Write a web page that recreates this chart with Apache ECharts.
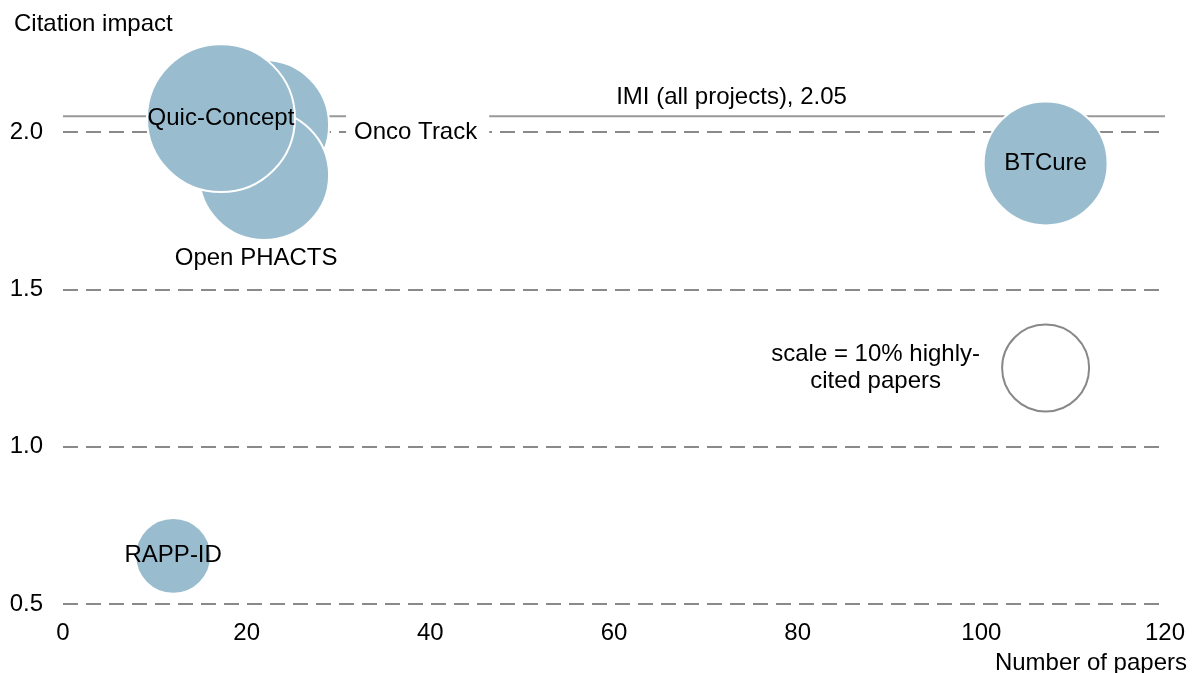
<!DOCTYPE html>
<html><head><meta charset="utf-8">
<script src="https://cdn.jsdelivr.net/npm/echarts@6/dist/echarts.min.js"></script>
<style>html,body{margin:0;padding:0;background:#fff}#c{width:1195px;height:673px}</style>
</head><body><div id="c"></div>
<script>
// ---- data ----
const projects = ['Onco Track', 'Open PHACTS', 'Quic-Concept', 'BTCure', 'RAPP-ID'];
const papers = [21.9, 21.9, 17.2, 107.0, 12.0];
const impact = [2.022, 1.863, 2.044, 1.90, 0.653];
const highlyCited = [22.3, 22.3, 28.9, 20.3, 7.6]; // % highly-cited papers (bubble area)
const scaleRef = { x: 107.0, y: 1.25, share: 10, text: 'scale = 10% highly-\ncited papers' };
const imiValue = 2.05;
const imiLabel = 'IMI (all projects), 2.05';
const imiLabelX = 72.8;
const xRange = [0, 120];
const yRange = [0.5, 2.0];
const yTickInterval = 0.5;
const xTickInterval = 20;

const FONT = '"Liberation Sans", Arial, sans-serif';
const FS = 24;
const bubbleColor = '#99BDCF';
const sizeFn = share => 87 * Math.sqrt(share / 10);
const txt = { color: '#000', fontSize: FS, fontFamily: FONT, textBorderWidth: 0 };

const labelCfg = {
  'Onco Track': { position: 'right', distance: 16, offset: [0, 7], backgroundColor: '#fff', padding: [8, 12, 8, 8] },
  'Open PHACTS': { position: 'bottom', distance: 5, offset: [-8, 0] },
  'Quic-Concept': { position: 'inside' },
  'BTCure': { position: 'inside' },
  'RAPP-ID': { position: 'inside' }
};

const bubbleData = projects.map((p, i) => ({
  name: p,
  value: [papers[i], impact[i], highlyCited[i]],
  label: Object.assign({ show: true, formatter: '{b}' }, txt, labelCfg[p])
}));

const chart = echarts.init(document.getElementById('c'), null, { renderer: 'canvas' });
chart.setOption({
  animation: false,
  backgroundColor: '#fff',
  title: [
    { text: 'Citation impact', left: 14, top: 12, padding: 0, textStyle: Object.assign({ fontWeight: 'normal' }, txt) },
    { text: 'Number of papers', right: 8, bottom: -2, padding: 0, textStyle: Object.assign({ fontWeight: 'normal' }, txt) }
  ],
  grid: { left: 63, right: 30, top: 132, bottom: 69 },
  xAxis: {
    type: 'value', min: xRange[0], max: xRange[1], interval: xTickInterval,
    axisLine: { show: false }, axisTick: { show: false }, splitLine: { show: false },
    axisLabel: Object.assign({ margin: 17 }, txt)
  },
  yAxis: {
    type: 'value', min: yRange[0], max: yRange[1], interval: yTickInterval,
    axisLine: { show: false }, axisTick: { show: false },
    splitLine: { show: true, lineStyle: { color: '#8a8a8a', width: 2, type: [15, 8] } },
    axisLabel: Object.assign({ margin: 20, formatter: v => v.toFixed(1) }, txt)
  },
  series: [
    {
      name: 'IMI', type: 'line', z: 1, silent: true, symbol: 'none', clip: false,
      lineStyle: { color: '#999', width: 2 },
      data: [[xRange[0], imiValue], [xRange[1], imiValue]]
    },
    {
      type: 'scatter', z: 1, clip: false, silent: true,
      data: [{ name: imiLabel, value: [imiLabelX, imiValue] }],
      symbolSize: 0,
      itemStyle: { opacity: 1 },
      label: Object.assign({ show: true, position: 'top', distance: 7, formatter: '{b}' }, txt)
    },
    {
      type: 'scatter', z: 2, clip: false,
      data: bubbleData,
      symbolSize: v => sizeFn(v[2]),
      itemStyle: { color: bubbleColor, borderColor: '#fff', borderWidth: 2, opacity: 1 }
    },
    {
      type: 'scatter', z: 2, clip: false,
      data: [{ name: scaleRef.text, value: [scaleRef.x, scaleRef.y, scaleRef.share] }],
      symbolSize: v => sizeFn(v[2]),
      itemStyle: { color: '#fff', borderColor: '#888', borderWidth: 2, opacity: 1 },
      label: Object.assign({ show: true, position: 'inside', offset: [-170, 0], align: 'center', lineHeight: 27, formatter: '{b}' }, txt)
    }
  ]
});
</script></body></html>
